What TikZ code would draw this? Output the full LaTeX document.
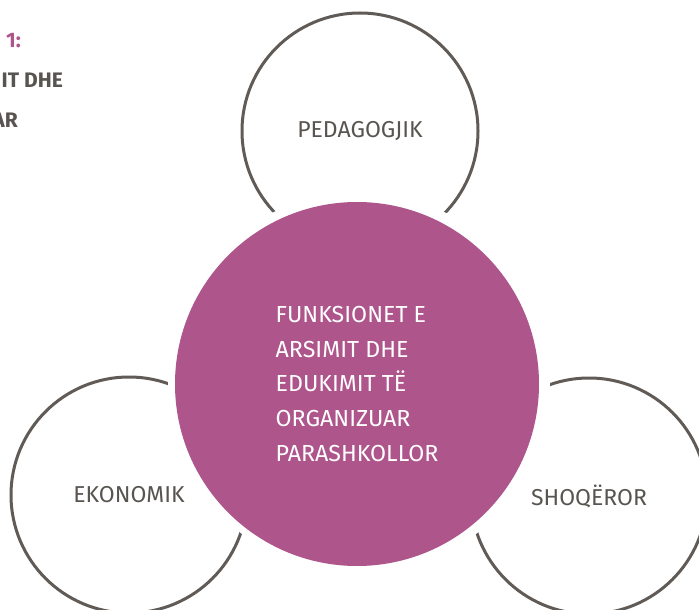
\documentclass[tikz,border=0pt]{standalone}
\usepackage{fontspec}
\setmainfont{Fira Sans}
\usetikzlibrary{positioning}
\definecolor{ringgray}{RGB}{96,91,86}
\definecolor{labelgray}{RGB}{88,84,80}
\definecolor{hubpurple}{RGB}{174,85,140}

\begin{document}
\begin{tikzpicture}[x=1pt, y=-1pt,
	ring/.style={draw=ringgray, line width=3pt, shape=circle, minimum size=236pt, inner sep=0pt,
		text=labelgray, font=\fontsize{23}{28}\selectfont},
	halo/.style={shape=circle, fill=white, minimum size=382pt, inner sep=0pt},
	hub/.style={shape=circle, fill=hubpurple, minimum size=364pt, inner sep=0pt, text=white,
		align=left, font=\fontsize{23.2}{34.7}\selectfont},
	capt/.style={inner sep=0pt, anchor=base east, font=\fontsize{21}{24}\selectfont\bfseries}]
	\useasboundingbox (0,0) rectangle (699,610);
	% rings
	\node[ring] (ped) at (360,131) {PEDAGOGJIK};
	\node[ring] (eko) at (129,495) {EKONOMIK};
	\node[ring] (sho) at (589,496) {SHOQËROR};
	% centre
	\node[halo] (gap) at (359,383) {};
	\node[hub] (fun) at (357,384) {FUNKSIONET E\\ARSIMIT DHE\\EDUKIMIT TË\\ORGANIZUAR\\PARASHKOLLOR};
	% cut caption
	\node[capt, text=hubpurple] (fig) at (21,48) {1:};
	\node[capt, text=labelgray] (tit) at (63,88) {IT DHE};
	\node[capt, text=labelgray] (sub) at (18,128) {AR};
\end{tikzpicture}
\end{document}
